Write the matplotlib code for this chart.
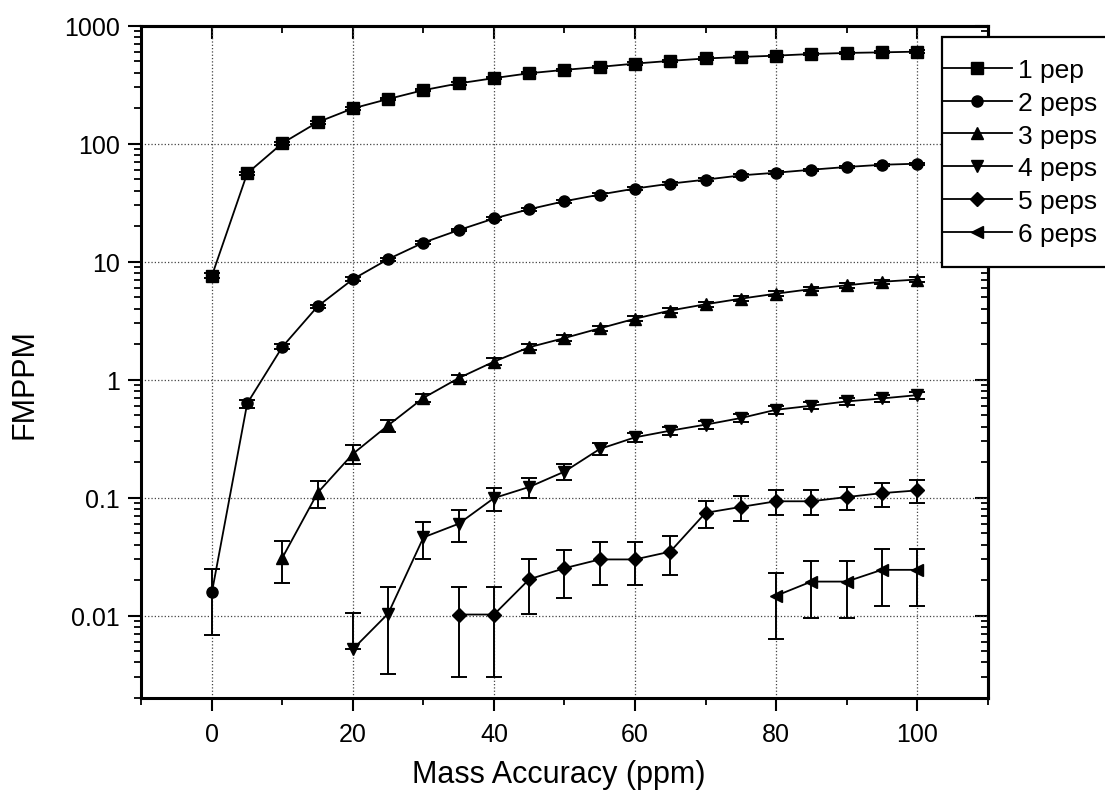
import matplotlib
matplotlib.use('Agg')
import matplotlib.pyplot as plt
import numpy as np
from matplotlib.patches import Rectangle
from matplotlib.ticker import FixedLocator, MultipleLocator, FuncFormatter, NullFormatter

plt.rcParams['font.family'] = ['Liberation Sans', 'DejaVu Sans']

# mass accuracy (ppm)
x1 = [0, 5, 10, 15, 20, 25, 30, 35, 40, 45, 50, 55, 60, 65, 70, 75, 80, 85, 90, 95, 100]
x3 = x1[2:]
x4 = x1[4:]
x5 = x1[7:]
x6 = x1[16:]

# FMPPM values
pep1 = [7.6, 56, 101, 152, 199, 239, 284, 324, 359, 395, 422, 447, 477, 503, 527,
        543, 557, 575, 587, 594, 602]
pep1_err = [0.4, 2, 3, 4, 5, 6, 7, 8, 9, 9, 10, 10, 11, 11, 12, 12, 12, 13, 13, 13, 14]

pep2 = [0.0158, 0.628, 1.9, 4.18, 7.1, 10.5, 14.5, 18.5, 23.2, 27.8, 32.5, 37, 41.6,
        45.8, 49.5, 53.8, 56.7, 60.1, 63.4, 66.2, 67.6]
pep2_err = [0.009, 0.05, 0.1, 0.15, 0.25, 0.3, 0.4, 0.5, 0.6, 0.7, 0.8, 0.9, 1.0, 1.1,
            1.2, 1.3, 1.4, 1.4, 1.5, 1.5, 1.6]

pep3 = [0.031, 0.11, 0.235, 0.41, 0.70, 1.03, 1.42, 1.88, 2.25, 2.72, 3.28, 3.85, 4.35,
        4.85, 5.35, 5.85, 6.3, 6.75, 7.05]
pep3_err = [0.012, 0.028, 0.042, 0.048, 0.06, 0.07, 0.09, 0.11, 0.13, 0.15, 0.17, 0.19,
            0.2, 0.22, 0.24, 0.26, 0.28, 0.3, 0.32]

pep4 = [0.0052, 0.0104, 0.046, 0.060, 0.099, 0.123, 0.166, 0.258, 0.324, 0.369, 0.415,
        0.472, 0.555, 0.60, 0.653, 0.692, 0.738]
pep4_err = [0.0053, 0.0072, 0.016, 0.018, 0.022, 0.023, 0.026, 0.03, 0.03, 0.03, 0.035,
            0.035, 0.04, 0.04, 0.045, 0.045, 0.05]

pep5 = [0.0102, 0.0102, 0.0203, 0.0252, 0.0299, 0.0299, 0.0348, 0.0742, 0.0833, 0.093,
        0.093, 0.101, 0.109, 0.115]
pep5_err = [0.0072, 0.0072, 0.0099, 0.011, 0.0118, 0.0118, 0.0126, 0.019, 0.020, 0.022,
            0.022, 0.023, 0.025, 0.025]

pep6 = [0.0147, 0.0194, 0.0194, 0.0244, 0.0244]
pep6_err = [0.0084, 0.0098, 0.0098, 0.0123, 0.0123]

labels = ['1 pep', '2 peps', '3 peps', '4 peps', '5 peps', '6 peps']
markers = ['s', 'o', '^', 'v', 'D', '<']
msizes = [8, 8, 9, 9, 7, 9]
series = [(x1, pep1, pep1_err), (x1, pep2, pep2_err), (x3, pep3, pep3_err),
          (x4, pep4, pep4_err), (x5, pep5, pep5_err), (x6, pep6, pep6_err)]


def main():
    fig = plt.figure(figsize=(11.05, 8.03), dpi=100)
    fig.subplots_adjust(left=0.128, right=0.8937, bottom=0.1295, top=0.9668)
    ax = fig.add_subplot(111)
    ax.set_yscale('log')

    handles = []
    for (xs, ys, es), m, ms in zip(series, markers, msizes):
        ys = np.asarray(ys)
        es = np.asarray(es)
        lower = np.where(es < ys, es, 0)  # no lower bar when it would go below zero
        c = ax.errorbar(xs, ys, yerr=[lower, es], fmt='-', marker=m, ms=ms,
                        color='black', lw=1.3, elinewidth=1.4, capsize=5.5,
                        capthick=1.4, zorder=3)
        handles.append(c[0])

    ax.set_xlim(-10, 110)
    ax.set_ylim(0.002, 1000)
    ax.xaxis.set_major_locator(FixedLocator([0, 20, 40, 60, 80, 100]))
    ax.xaxis.set_minor_locator(MultipleLocator(10))
    ax.yaxis.set_major_formatter(FuncFormatter(lambda v, _: f'{v:g}'))
    ax.yaxis.set_minor_formatter(NullFormatter())

    ax.tick_params(which='major', direction='out', length=9.5, width=1.5,
                   labelsize=18, top=False, right=False)
    ax.tick_params(which='minor', direction='out', length=5, width=1.3,
                   top=False, right=False)
    ax.tick_params(axis='x', pad=8)
    ax.tick_params(axis='y', pad=6)

    ax.grid(True, which='major', ls=':', color='#444444', lw=0.9)
    for s in ax.spines.values():
        s.set_linewidth(2.2)

    # inward ticks on top and right
    top = ax.secondary_xaxis('top')
    top.xaxis.set_major_locator(FixedLocator([0, 20, 40, 60, 80, 100]))
    top.xaxis.set_minor_locator(MultipleLocator(10))
    top.tick_params(which='major', direction='in', length=9.5, width=1.5, labeltop=False)
    top.tick_params(which='minor', direction='in', length=5, width=1.3)
    top.spines['top'].set_linewidth(2.2)

    right = ax.secondary_yaxis('right')
    right.yaxis.set_major_formatter(NullFormatter())
    right.yaxis.set_minor_formatter(NullFormatter())
    right.tick_params(which='major', direction='in', length=9.5, width=1.5, labelright=False)
    right.tick_params(which='minor', direction='in', length=5, width=1.3, labelright=False)
    right.spines['right'].set_linewidth(2.2)

    ax.set_xlabel('Mass Accuracy (ppm)', fontsize=22)
    ax.xaxis.set_label_coords(0.493, -0.09)
    ax.set_ylabel('FMPPM', fontsize=22)
    ax.yaxis.set_label_coords(-0.12, 0.469)

    # legend box sticking out past the right edge
    fig.add_artist(Rectangle((942 / 1105, 1 - 268 / 803), 175 / 1105, 230 / 803,
                             transform=fig.transFigure, facecolor='white',
                             edgecolor='black', lw=1.6, zorder=4, clip_on=False))
    fig.legend(handles, labels, loc='center left',
               bbox_to_anchor=(942 / 1105, 1 - 153 / 803), frameon=False,
               borderpad=0, borderaxespad=0, handlelength=2.65, handletextpad=0.23,
               labelspacing=0.33, fontsize=19)

    plt.savefig('out.png', dpi=100)


if __name__ == '__main__':
    main()
